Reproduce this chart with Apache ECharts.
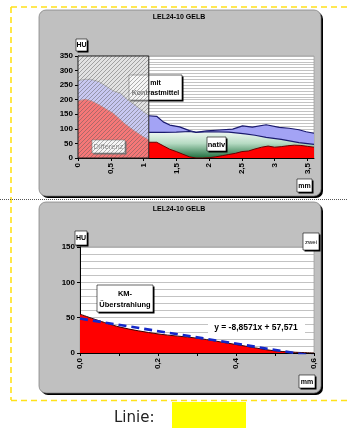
<!DOCTYPE html>
<html>
<head>
<meta charset="utf-8">
<script src="https://cdn.jsdelivr.net/npm/echarts@6/dist/echarts.min.js"></script>
<style>
  html, body { margin: 0; padding: 0; background: #fff; }
  #chart { width: 347px; height: 428px; }
</style>
</head>
<body>
<div id="chart"></div>
<script>
// ---------- Daten ----------
const chartTitle = 'LEL24-10 GELB';

// oberes Diagramm: HU-Profil entlang der Strecke (mm)
const hatchedRange = [0, 1.08];            // schraffierter Bereich
const leftKM = [[0,265],[0.1,270],[0.19,270],[0.32,262],[0.44,245],[0.54,230],[0.65,222],[0.75,201],[0.87,182],[1.0,159],[1.08,146]];
const leftDiff = [[0,195],[0.06,199],[0.12,201],[0.2,196],[0.29,186],[0.37,176],[0.44,166],[0.52,156],[0.6,141],[0.7,120],[0.78,106],[0.86,93],[0.94,81],[1.0,72],[1.08,62]];
const rightKM = [[1.08,145],[1.2,143],[1.3,124],[1.4,113],[1.55,107],[1.7,94],[1.8,88],[1.96,93],[2.16,96],[2.36,99],[2.51,110],[2.66,106],[2.87,114],[3.07,105],[3.22,102],[3.37,97],[3.48,90],[3.6,85]];
const rightNativ = [[1.08,88],[1.3,88],[1.5,89],[1.7,91],[1.8,88],[2.0,90],[2.3,89],[2.55,83],[2.7,78],[2.87,71],[3.1,64],[3.37,53],[3.6,47]];
const rightDiff = [[1.08,54],[1.2,54],[1.3,42],[1.4,30],[1.5,22],[1.6,13],[1.7,4],[1.8,0],[1.9,0],[2.0,1],[2.1,4],[2.2,8],[2.3,12],[2.4,16],[2.5,22],[2.6,24],[2.7,31],[2.8,37],[2.9,41],[3.0,37],[3.1,39],[3.2,42],[3.3,44],[3.4,43],[3.5,40],[3.6,37]];

// unteres Diagramm: KM-Überstrahlung
const bottomX = [0, 0.1, 0.2, 0.3, 0.4, 0.5, 0.6];
const bottomHU = [55, 37, 27, 21, 12, 3, 0];
const trendSlope = -8.8571;
const trendIntercept = 57.571;
const trendLabel = 'y = -8,8571x + 57,571';

// Achsen
const topY = { min: 0, max: 350, step: 50 };
const topX = { min: 0, max: 3.6, step: 0.5 };
const botY = { min: 0, max: 150, step: 50 };
const botX = { min: 0, max: 0.6, step: 0.1 };

// ---------- Darstellung ----------
const FONT = '"Liberation Sans", Arial, sans-serif';
const comma = v => String(v).replace('.', ',');

function hatchCanvas() {
  const s = 4;
  const c = document.createElement('canvas');
  c.width = s; c.height = s;
  const g = c.getContext('2d');
  g.fillStyle = 'rgba(238,238,238,0.5)';
  g.fillRect(0, 0, s, s);
  g.strokeStyle = 'rgba(90,90,90,0.6)';
  g.lineWidth = 0.8;
  g.beginPath();
  g.moveTo(0, s); g.lineTo(s, 0);
  g.moveTo(-1, 1); g.lineTo(1, -1);
  g.moveTo(s - 1, s + 1); g.lineTo(s + 1, s - 1);
  g.stroke();
  return c;
}
const hatchPattern = { image: hatchCanvas(), repeat: 'repeat' };

function labelBox(x, y, w, h, text, z, opts) {
  opts = opts || {};
  return [
    { type: 'rect', z: z, shape: { x: x + 1.5, y: y + 1.5, width: w, height: h }, style: { fill: '#000' } },
    { type: 'rect', z: z, shape: { x: x, y: y, width: w, height: h },
      style: { fill: '#fff', stroke: opts.noBorder ? null : '#000', lineWidth: 0.6 } },
    { type: 'text', z: z, style: {
        text: text, x: x + w / 2, y: y + h / 2 + 0.5,
        textAlign: 'center', textVerticalAlign: 'middle',
        font: (opts.weight || 'bold') + ' ' + (opts.size || 7) + 'px ' + FONT,
        fill: opts.color || '#000', lineHeight: opts.lineHeight || 10 } }
  ];
}

function panel(x, y, w, h) {
  return [
    { type: 'rect', z: -2, shape: { x: x + 2, y: y + 2, width: w, height: h, r: 7 }, style: { fill: '#000' } },
    { type: 'rect', z: -1, shape: { x: x, y: y, width: w, height: h, r: 7 }, style: { fill: '#c0c0c0', stroke: '#7a7a7a', lineWidth: 0.7 } }
  ];
}

function yellowLine(x1, y1, x2, y2) {
  return { type: 'line', z: -3, shape: { x1, y1, x2, y2 },
    style: { stroke: '#ffe11a', lineWidth: 1.6, lineDash: [6, 4] } };
}

const axisLabelStyle = { fontFamily: FONT, fontWeight: 'bold', fontSize: 8, color: '#000' };
const splitStyle = { color: '#9a9a9a', width: 0.6 };

function valueAxisY(grid, r) {
  return {
    type: 'value', gridIndex: grid, min: r.min, max: r.max, interval: r.step,
    axisLine: { show: true, lineStyle: { color: '#000', width: 1 } },
    axisTick: { show: true, length: 3, lineStyle: { color: '#000' } },
    axisLabel: Object.assign({ margin: 5 }, axisLabelStyle),
    splitLine: { show: true, lineStyle: splitStyle },
    minorTick: { show: false, splitNumber: 5 },
    minorSplitLine: { show: true, lineStyle: splitStyle }
  };
}

const graphics = [].concat(
  [
    yellowLine(11, 7, 347, 7),
    yellowLine(11, 7, 11, 400),
    yellowLine(11, 400.5, 347, 400.5),
    { type: 'line', z: -3, shape: { x1: 0, y1: 199.5, x2: 347, y2: 199.5 },
      style: { stroke: '#555', lineWidth: 1, lineDash: [1, 1] } }
  ],
  panel(39, 10, 282, 186),
  panel(39, 202, 282, 191),
  [
    { type: 'text', z: 10, style: { text: chartTitle, x: 179, y: 17, textAlign: 'center', textVerticalAlign: 'middle', font: 'bold 7px ' + FONT, fill: '#000' } },
    { type: 'text', z: 10, style: { text: chartTitle, x: 179, y: 209.5, textAlign: 'center', textVerticalAlign: 'middle', font: 'bold 7px ' + FONT, fill: '#000' } }
  ],
  // oberes Diagramm
  labelBox(76, 39, 11, 12, 'HU', 10),
  labelBox(297, 179, 15, 13, 'mm', 10),
  labelBox(129, 75, 53, 25, 'mit\nKontrastmittel', 5, { lineHeight: 9.5 }),
  labelBox(92, 140, 33, 13, 'Differenz', 5, { weight: 'normal', size: 7.5, color: '#333' }),
  labelBox(207, 137, 19, 14, 'nativ', 10, { size: 7.5 }),
  // unteres Diagramm
  labelBox(75, 231, 12, 14, 'HU', 10),
  labelBox(299, 375, 16, 13, 'mm', 10),
  labelBox(303, 233, 16, 17, 'zwei', 10, { weight: 'normal', size: 6 }),
  labelBox(97, 285, 56, 27, 'KM-\nÜberstrahlung', 10, { size: 7.5, lineHeight: 11 }),
  [
    { type: 'rect', z: 9, shape: { x: 208, y: 321, width: 97, height: 13 }, style: { fill: '#fff' } },
    { type: 'text', z: 10, style: { text: trendLabel, x: 256, y: 328, textAlign: 'center', textVerticalAlign: 'middle', font: 'bold 8.5px ' + FONT, fill: '#000' } },
    // Legende unten
    { type: 'text', z: 10, style: { text: 'Linie:', x: 114, y: 418, textVerticalAlign: 'middle', font: '15px "DejaVu Sans", sans-serif', fill: '#222' } },
    { type: 'rect', z: 10, shape: { x: 172, y: 402, width: 74, height: 26 }, style: { fill: '#ffff00' } }
  ]
);

function rangeRect(fill, stroke) {
  return function (params, api) {
    const cs = params.coordSys;
    const x0 = api.coord([api.value(0), 0])[0];
    const x1 = api.coord([api.value(1), 0])[0];
    return { type: 'rect', shape: { x: x0, y: cs.y, width: x1 - x0, height: cs.height },
      style: { fill: fill, stroke: stroke, lineWidth: 1 } };
  };
}

function area(data, fill, line, z, width) {
  return {
    type: 'line', xAxisIndex: 0, yAxisIndex: 0, data: data, z: z,
    showSymbol: false, silent: true,
    lineStyle: { color: line, width: width || 1 },
    areaStyle: { color: fill, opacity: 1, origin: 'start' }
  };
}

const greenFill = new echarts.graphic.LinearGradient(0, 0, 0, 1, [
  { offset: 0, color: '#f2f9f4' },
  { offset: 0.45, color: '#b6dbc3' },
  { offset: 1, color: '#1f6f3f' }
]);

const option = {
  animation: false,
  backgroundColor: '#fff',
  graphic: { elements: graphics },
  grid: [
    { left: 78, top: 56, width: 236, height: 102, show: true, backgroundColor: '#fff', borderColor: '#999', borderWidth: 0.7 },
    { left: 80, top: 247, width: 234, height: 106, show: true, backgroundColor: '#fff', borderColor: '#999', borderWidth: 0.7 }
  ],
  xAxis: [
    {
      type: 'value', gridIndex: 0, min: topX.min, max: topX.max, interval: topX.step,
      axisLine: { show: true, onZero: false, lineStyle: { color: '#000' } },
      axisTick: { show: true, length: 3, lineStyle: { color: '#000' } },
      axisLabel: Object.assign({ rotate: 90, margin: 5, showMaxLabel: false, formatter: v => comma(v) }, axisLabelStyle),
      splitLine: { show: false }
    },
    {
      type: 'value', gridIndex: 1, min: botX.min, max: botX.max, interval: botX.step,
      axisLine: { show: true, onZero: false, lineStyle: { color: '#000' } },
      axisTick: { show: true, length: 3, lineStyle: { color: '#000' } },
      axisLabel: Object.assign({ rotate: 90, margin: 5,
        formatter: v => (Math.round(v * 10) % 2 === 0 ? comma(v.toFixed(1)) : '') }, axisLabelStyle),
      splitLine: { show: false }
    }
  ],
  yAxis: [valueAxisY(0, topY), valueAxisY(1, botY)],
  series: [
    { type: 'custom', xAxisIndex: 0, yAxisIndex: 0, z: 1, silent: true,
      data: [hatchedRange], encode: { x: [0, 1] }, renderItem: rangeRect('#d6d6d6', null) },
    area(leftKM, '#a3a3f5', '#777', 2),
    area(leftDiff, '#ff0000', '#a33', 4),
    area(rightKM, '#a3a3f5', '#1a1a6e', 2, 1.2),
    area(rightNativ, greenFill, '#1a1a6e', 3, 1.2),
    area(rightDiff, '#ff0000', '#6a0000', 4),
    { type: 'custom', xAxisIndex: 0, yAxisIndex: 0, z: 6, silent: true,
      data: [hatchedRange], encode: { x: [0, 1] }, renderItem: rangeRect(hatchPattern, '#222') },
    {
      type: 'line', xAxisIndex: 1, yAxisIndex: 1, z: 3, silent: true, smooth: 0.3, showSymbol: false,
      data: bottomX.map((x, i) => [x, bottomHU[i]]),
      lineStyle: { color: '#3a0000', width: 1 },
      areaStyle: { color: '#ff0000', opacity: 1, origin: 'start' }
    },
    {
      // Trendlinie über den Punktindex 1..n
      type: 'line', xAxisIndex: 1, yAxisIndex: 1, z: 4, silent: true, showSymbol: false,
      data: [
        [bottomX[0], trendSlope * 1 + trendIntercept],
        [bottomX[bottomX.length - 1], trendSlope * bottomX.length + trendIntercept]
      ],
      lineStyle: { color: '#1428c8', width: 2.6, type: [8, 5] }
    }
  ]
};

const chart = echarts.init(document.getElementById('chart'), null, { renderer: 'canvas', width: 347, height: 428 });
chart.setOption(option);
</script>
</body>
</html>
